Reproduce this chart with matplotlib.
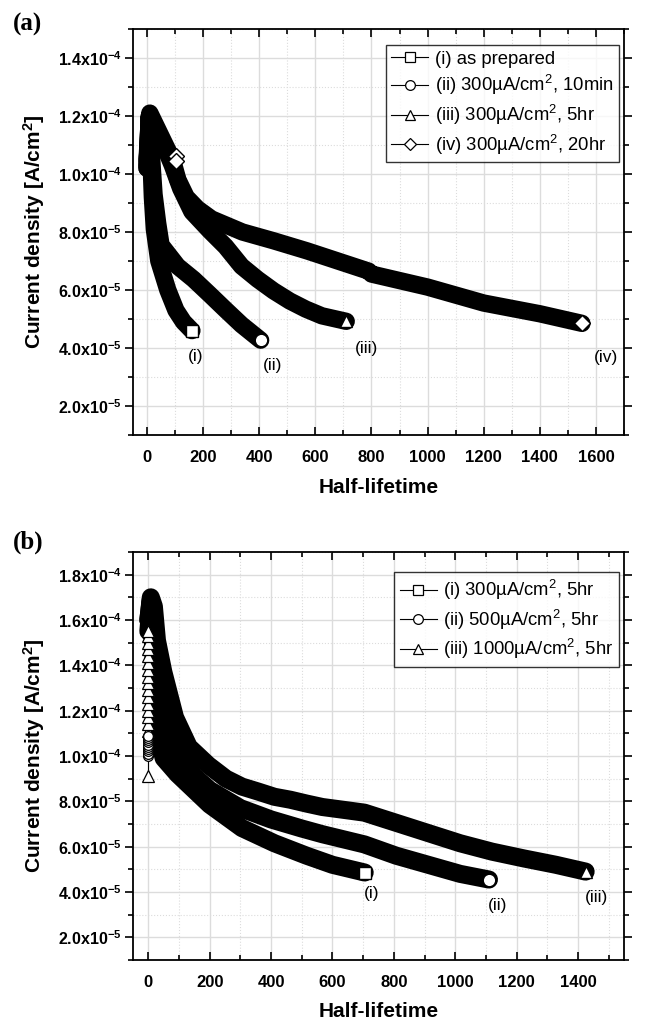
import matplotlib
matplotlib.use("Agg")
import math
import matplotlib.pyplot as plt
from matplotlib.lines import Line2D
from matplotlib.ticker import MultipleLocator, FuncFormatter

plt.rcParams['font.family'] = ['Liberation Sans', 'DejaVu Sans']
plt.rcParams['mathtext.default'] = 'regular'

# === Panel (a) data ===
a_labels = ["(i) as prepared",
            "(ii) 300\u00b5A/cm$^2$, 10min",
            "(iii) 300\u00b5A/cm$^2$, 5hr",
            "(iv) 300\u00b5A/cm$^2$, 20hr"]
a_tags = ["(i)", "(ii)", "(iii)", "(iv)"]
a_markers = ["s", "o", "^", "D"]

a1_x = [0, 8, 14, 19, 26, 42, 74, 103, 130, 160]
a1_y = [1.02e-4, 1.20e-4, 1.05e-4, 9.2e-5, 8.1e-5, 7.0e-5, 6.0e-5, 5.3e-5, 4.9e-5, 4.6e-5]
a2_x = [0, 8, 16, 25, 38, 50, 109, 166, 223, 280, 337, 405]
a2_y = [1.02e-4, 1.20e-4, 1.06e-4, 9.3e-5, 8.3e-5, 7.55e-5, 6.82e-5, 6.37e-5, 5.85e-5,
        5.32e-5, 4.8e-5, 4.27e-5]
a3_x = [0, 10, 30, 60, 90, 120, 160, 223, 280, 337, 394, 451, 509, 566, 623, 710]
a3_y = [1.03e-4, 1.20e-4, 1.16e-4, 1.10e-4, 1.03e-4, 9.5e-5, 8.7e-5, 8.05e-5, 7.5e-5,
        6.82e-5, 6.37e-5, 5.97e-5, 5.62e-5, 5.34e-5, 5.11e-5, 4.92e-5]
a4_x = [0, 10, 30, 60, 90, 110, 140, 180, 230, 340, 450, 570, 680, 790, 800, 1000,
        1200, 1400, 1550]
a4_y = [1.05e-4, 1.21e-4, 1.17e-4, 1.11e-4, 1.05e-4, 9.8e-5, 9.2e-5, 8.8e-5, 8.45e-5,
        8.0e-5, 7.7e-5, 7.35e-5, 7.0e-5, 6.65e-5, 6.55e-5, 6.1e-5, 5.55e-5, 5.18e-5, 4.85e-5]
a_gap_x = [105, 105]
a_gap_y = [1.063e-4, 1.045e-4]

# === Panel (b) data ===
b_labels = ["(i) 300\u00b5A/cm$^2$, 5hr",
            "(ii) 500\u00b5A/cm$^2$, 5hr",
            "(iii) 1000\u00b5A/cm$^2$, 5hr"]
b_tags = ["(i)", "(ii)", "(iii)"]
b_markers = ["s", "o", "^"]

b1_x = [0, 8, 15, 20, 25, 50, 95, 200, 305, 411, 516, 600, 705]
b1_y = [1.55e-4, 1.68e-4, 1.50e-4, 1.30e-4, 1.12e-4, 9.9e-5, 9.2e-5, 7.85e-5, 6.82e-5,
        6.15e-5, 5.6e-5, 5.2e-5, 4.86e-5]
b2_x = [0, 8, 20, 35, 60, 100, 150, 200, 300, 400, 500, 567, 704, 808, 912, 1016, 1110]
b2_y = [1.60e-4, 1.69e-4, 1.55e-4, 1.30e-4, 1.10e-4, 9.9e-5, 9.1e-5, 8.5e-5, 7.7e-5,
        7.2e-5, 6.8e-5, 6.55e-5, 6.1e-5, 5.6e-5, 5.2e-5, 4.8e-5, 4.55e-5]
b3_x = [0, 8, 18, 28, 49, 87, 132, 195, 253, 305, 358, 411, 463, 516, 567, 650, 704,
        808, 912, 1016, 1120, 1224, 1328, 1425]
b3_y = [1.60e-4, 1.70e-4, 1.66e-4, 1.51e-4, 1.37e-4, 1.17e-4, 1.04e-4, 9.6e-5, 9.0e-5,
        8.65e-5, 8.43e-5, 8.2e-5, 8.07e-5, 7.9e-5, 7.75e-5, 7.6e-5, 7.5e-5, 7.05e-5,
        6.6e-5, 6.15e-5, 5.78e-5, 5.48e-5, 5.2e-5, 4.9e-5]
# early points stacked at t=0
b_tri_stack_y = [9.1e-5, 1.11e-4, 1.14e-4, 1.17e-4, 1.20e-4, 1.23e-4, 1.26e-4, 1.29e-4,
                 1.32e-4, 1.35e-4, 1.38e-4, 1.41e-4, 1.44e-4, 1.47e-4, 1.50e-4, 1.53e-4,
                 1.55e-4]
b_sq_stack_y = [1.00e-4, 1.01e-4, 1.02e-4, 1.03e-4, 1.04e-4, 1.05e-4, 1.06e-4, 1.07e-4,
                1.08e-4, 1.09e-4]

# label offsets (pixels) from the end markers
a_tag_off = [(4, -26), (12, -25), (20, -27), (24, -34)]
b_tag_off = [(7, -21), (9, -26), (11, -26)]


def sci_fmt(v, pos):
    if v <= 0:
        return ""
    e = int(math.floor(math.log10(v) + 1e-9))
    m = v / 10 ** e
    return f"{m:.1f}x10$^{{{e}}}$"


def style_axes(ax, xlim, ylim):
    ax.set_xlim(*xlim)
    ax.set_ylim(*ylim)
    ax.xaxis.set_major_locator(MultipleLocator(200))
    ax.xaxis.set_minor_locator(MultipleLocator(100))
    ax.yaxis.set_major_locator(MultipleLocator(2e-5))
    ax.yaxis.set_minor_locator(MultipleLocator(1e-5))
    ax.yaxis.set_major_formatter(FuncFormatter(sci_fmt))
    ax.grid(True, which='major', color='#dcdcdc', lw=1.0, ls='-')
    ax.grid(True, which='minor', color='#dcdcdc', lw=0.8, ls=':')
    ax.set_axisbelow(True)
    ax.tick_params(axis='x', which='both', direction='in', top=True, bottom=True,
                   width=1.2, pad=11, labelsize=12)
    ax.tick_params(axis='y', which='both', direction='out', left=True, right=True,
                   width=1.2, pad=2, labelsize=11.5)
    ax.tick_params(which='major', length=6)
    ax.tick_params(which='minor', length=3.5)
    for lab in ax.get_xticklabels() + ax.get_yticklabels():
        lab.set_fontweight('bold')
    for s in ax.spines.values():
        s.set_linewidth(1.3)
    ax.set_xlabel("Half-lifetime", fontsize=15, fontweight='bold')
    ax.set_ylabel("Current density [A/cm$^2$]", fontsize=15, fontweight='bold')
    ax.yaxis.set_label_coords(-0.175, 0.5)


def draw_panel(ax, xs, ys, markers, tags, offs, lw):
    for x, y in zip(xs, ys):
        ax.plot(x, y, color='black', lw=lw, solid_capstyle='round',
                solid_joinstyle='round', zorder=3)
    for x, y, m, t, off in zip(xs, ys, markers, tags, offs):
        ax.plot(x[-1], y[-1], marker=m, ms=9 if m != 'D' else 8, mfc='white',
                mec='black', mew=1.0, ls='none', zorder=5)
        ax.annotate(t, (x[-1], y[-1]), xytext=(off[0] * 0.72, off[1] * 0.72),
                    textcoords='offset points', ha='center', va='center', fontsize=12.5)


def legend(ax, labels, markers, anchor):
    handles = [Line2D([], [], color='black', lw=0.8, marker=m, ms=7 if m != 'D' else 6,
                      mfc='white', mec='black', mew=0.9) for m in markers]
    leg = ax.legend(handles, labels, loc='upper right', bbox_to_anchor=anchor,
                    fontsize=13.3, frameon=True, fancybox=False, edgecolor='black',
                    handlelength=2.0, handletextpad=0.35, labelspacing=0.3,
                    borderpad=0.3, borderaxespad=0)
    leg.get_frame().set_linewidth(1.0)
    leg.set_zorder(10)


fig = plt.figure(figsize=(6.48, 10.24), dpi=100)
ax1 = fig.add_axes([133 / 648, 1 - 435 / 1024, 491 / 648, 406 / 1024])
ax2 = fig.add_axes([133 / 648, 1 - 960 / 1024, 491 / 648, 408 / 1024])

# === Panel (a) ===
style_axes(ax1, (-50, 1700), (1e-5, 1.5e-4))
ax1.xaxis.set_label_coords(0.5, -0.105)
draw_panel(ax1, [a1_x, a2_x, a3_x, a4_x], [a1_y, a2_y, a3_y, a4_y],
           a_markers, a_tags, a_tag_off, 12.5)
ax1.plot(a_gap_x, a_gap_y, marker='D', ms=8, mfc='white', mec='black', mew=1.0,
         ls='none', zorder=4)
legend(ax1, a_labels, a_markers, (0.99, 0.96))
fig.text(28 / 648, 1 - 24 / 1024, "(a)", fontsize=18, fontweight='bold',
         family='Liberation Serif', ha='center', va='center')

# === Panel (b) ===
style_axes(ax2, (-50, 1550), (1e-5, 1.9e-4))
ax2.xaxis.set_label_coords(0.5, -0.103)
draw_panel(ax2, [b1_x, b2_x, b3_x], [b1_y, b2_y, b3_y],
           b_markers, b_tags, b_tag_off, 13)
ax2.plot([0] * len(b_tri_stack_y), b_tri_stack_y, color='black', lw=0.8, marker='^',
         ms=9, mfc='white', mec='black', mew=0.9, zorder=4)
ax2.plot([0] * len(b_sq_stack_y), b_sq_stack_y, color='black', lw=0.8, marker='o',
         ms=7, mfc='white', mec='black', mew=0.9, zorder=4)
legend(ax2, b_labels, b_markers, (0.99, 0.95))
fig.text(28 / 648, 1 - 542 / 1024, "(b)", fontsize=18, fontweight='bold',
         family='Liberation Serif', ha='center', va='center')

fig.savefig("out.png", dpi=100)
